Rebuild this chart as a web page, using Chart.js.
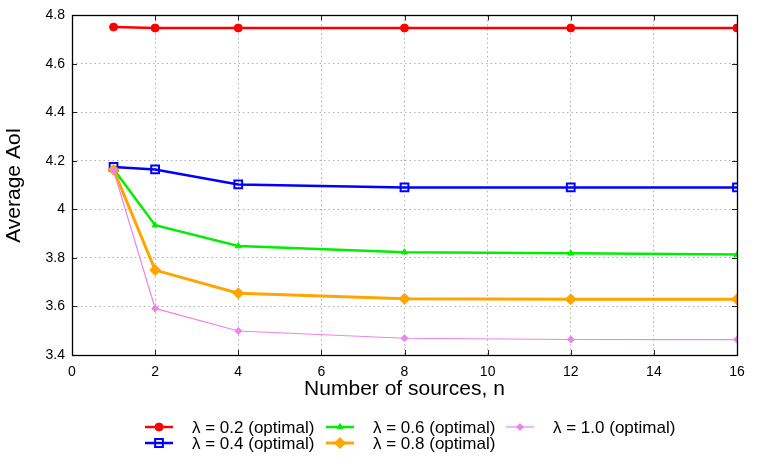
<!DOCTYPE html>
<html><head><meta charset="utf-8">
<script src="https://cdn.jsdelivr.net/npm/chart.js@4"></script>
<style>html,body{margin:0;padding:0;background:#fff}#wrap{width:764px;height:459px;position:relative}</style>
</head><body><div id="wrap"><canvas id="c" width="764" height="459"></canvas></div>
<script>
const nValues = [1, 2, 4, 8, 12, 16];
const lam02 = [4.752, 4.748, 4.748, 4.748, 4.748, 4.748];
const lam04 = [4.175, 4.165, 4.103, 4.091, 4.091, 4.091];
const lam06 = [4.167, 3.935, 3.849, 3.824, 3.819, 3.814];
const lam08 = [4.164, 3.750, 3.655, 3.632, 3.630, 3.630];
const lam10 = [4.161, 3.592, 3.499, 3.469, 3.464, 3.463];
const seriesLabels = ['λ = 0.2 (optimal)', 'λ = 0.4 (optimal)', 'λ = 0.6 (optimal)', 'λ = 0.8 (optimal)', 'λ = 1.0 (optimal)'];
const xTicks = [0, 2, 4, 6, 8, 10, 12, 14, 16];
const yTicks = [3.4, 3.6, 3.8, 4.0, 4.2, 4.4, 4.6, 4.8];

const FONT = "'Liberation Sans', Arial, sans-serif";
const styles = [
  {color:'#ff0000', width:2.5, point:'circle', radius:4, fill:true, pw:1},
  {color:'#0000ff', width:2.5, point:'rect', radius:5.5, fill:false, pw:2},
  {color:'#00ee00', width:2.5, point:'triangle', radius:3.5, fill:true, pw:1},
  {color:'#ffa500', width:3, point:'rectRot', radius:5.5, fill:true, pw:1},
  {color:'#ee82ee', width:1.2, point:'rectRot', radius:3.5, fill:true, pw:1}
];
const allData = [lam02, lam04, lam06, lam08, lam10];

const datasets = allData.map((arr, i) => {
  const s = styles[i];
  return {
    label: seriesLabels[i],
    data: nValues.map((n, k) => ({x: n, y: arr[k]})),
    borderColor: s.color,
    backgroundColor: s.fill ? s.color : 'rgba(0,0,0,0)',
    borderWidth: s.width,
    pointStyle: s.point,
    pointRadius: s.radius,
    pointBorderWidth: s.pw,
    pointBackgroundColor: s.fill ? s.color : 'rgba(0,0,0,0)',
    pointBorderColor: s.color,
    tension: 0,
    order: 4 - i
  };
});

const framePlugin = {
  id: 'frame',
  afterDatasetsDraw(chart) {
    const {ctx, chartArea: a, scales} = chart;
    ctx.save();
    ctx.strokeStyle = '#222';
    ctx.lineWidth = 1;
    const tl = 5;
    ctx.beginPath();
    xTicks.forEach(v => {
      const px = Math.round(scales.x.getPixelForValue(v)) + 0.5;
      ctx.moveTo(px, a.bottom); ctx.lineTo(px, a.bottom - tl);
      ctx.moveTo(px, a.top); ctx.lineTo(px, a.top + tl);
    });
    yTicks.forEach(v => {
      const py = Math.round(scales.y.getPixelForValue(v)) + 0.5;
      ctx.moveTo(a.left, py); ctx.lineTo(a.left + tl, py);
      ctx.moveTo(a.right, py); ctx.lineTo(a.right - tl, py);
    });
    ctx.stroke();
    ctx.lineWidth = 1.3;
    ctx.strokeStyle = '#000';
    ctx.strokeRect(Math.round(a.left) + 0.5, Math.round(a.top) + 0.5, Math.round(a.right - a.left), Math.round(a.bottom - a.top));
    ctx.restore();
  },
  afterDraw(chart) {
    const ctx = chart.ctx;
    const cols = [{mx:145, tx:192}, {mx:326, tx:373}, {mx:506, tx:553}];
    const rows = [427, 443];
    ctx.save();
    ctx.font = "17px " + FONT;
    ctx.textBaseline = 'middle';
    ctx.textAlign = 'left';
    datasets.forEach((d, i) => {
      const col = cols[Math.floor(i / 2)];
      const y = rows[i % 2];
      const s = styles[i];
      ctx.strokeStyle = s.color;
      ctx.lineWidth = s.width;
      ctx.beginPath(); ctx.moveTo(col.mx, y); ctx.lineTo(col.mx + 28, y); ctx.stroke();
      ctx.fillStyle = s.fill ? s.color : 'rgba(0,0,0,0)';
      ctx.lineWidth = s.pw;
      Chart.helpers.drawPoint(ctx, {pointStyle: s.point, radius: s.radius, borderWidth: s.pw, rotation: 0}, col.mx + 14, y);
      ctx.fillStyle = '#000';
      ctx.fillText(d.label, col.tx, y + 1);
    });
    ctx.restore();
  }
};

new Chart(document.getElementById('c'), {
  type: 'line',
  data: {datasets},
  options: {
    responsive: false,
    animation: false,
    devicePixelRatio: 1,
    layout: {padding: {top: 15, right: 27, bottom: 53, left: 0}},
    plugins: {legend: {display: false}, tooltip: {enabled: false}},
    elements: {line: {fill: false}},
    scales: {
      x: {
        type: 'linear', min: 0, max: 16,
        afterFit: s => { s.height = 51; },
        afterBuildTicks: s => { s.ticks = xTicks.map(v => ({value: v})); },
        grid: {color: '#b0b0b0', drawTicks: false, lineWidth: 1},
        border: {display: false, dash: [1.5, 3]},
        ticks: {color: '#000', font: {family: FONT, size: 14}, padding: 9, maxRotation: 0, callback: v => String(v)},
        title: {display: true, text: 'Number of sources, n', color: '#000', font: {family: FONT, size: 21}, padding: {top: 4, bottom: 4}}
      },
      y: {
        type: 'linear', min: 3.4, max: 4.8,
        afterFit: s => { s.width = 72; },
        afterBuildTicks: s => { s.ticks = yTicks.map(v => ({value: v})); },
        grid: {color: '#b0b0b0', drawTicks: false, lineWidth: 1},
        border: {display: false, dash: [1.5, 3]},
        ticks: {color: '#000', font: {family: FONT, size: 14}, padding: 7, callback: v => String(Number(v.toFixed(1)))},
        title: {display: true, text: 'Average AoI', color: '#000', font: {family: FONT, size: 21}, padding: {top: 2, bottom: 2}}
      }
    }
  },
  plugins: [framePlugin]
});
</script></body></html>
